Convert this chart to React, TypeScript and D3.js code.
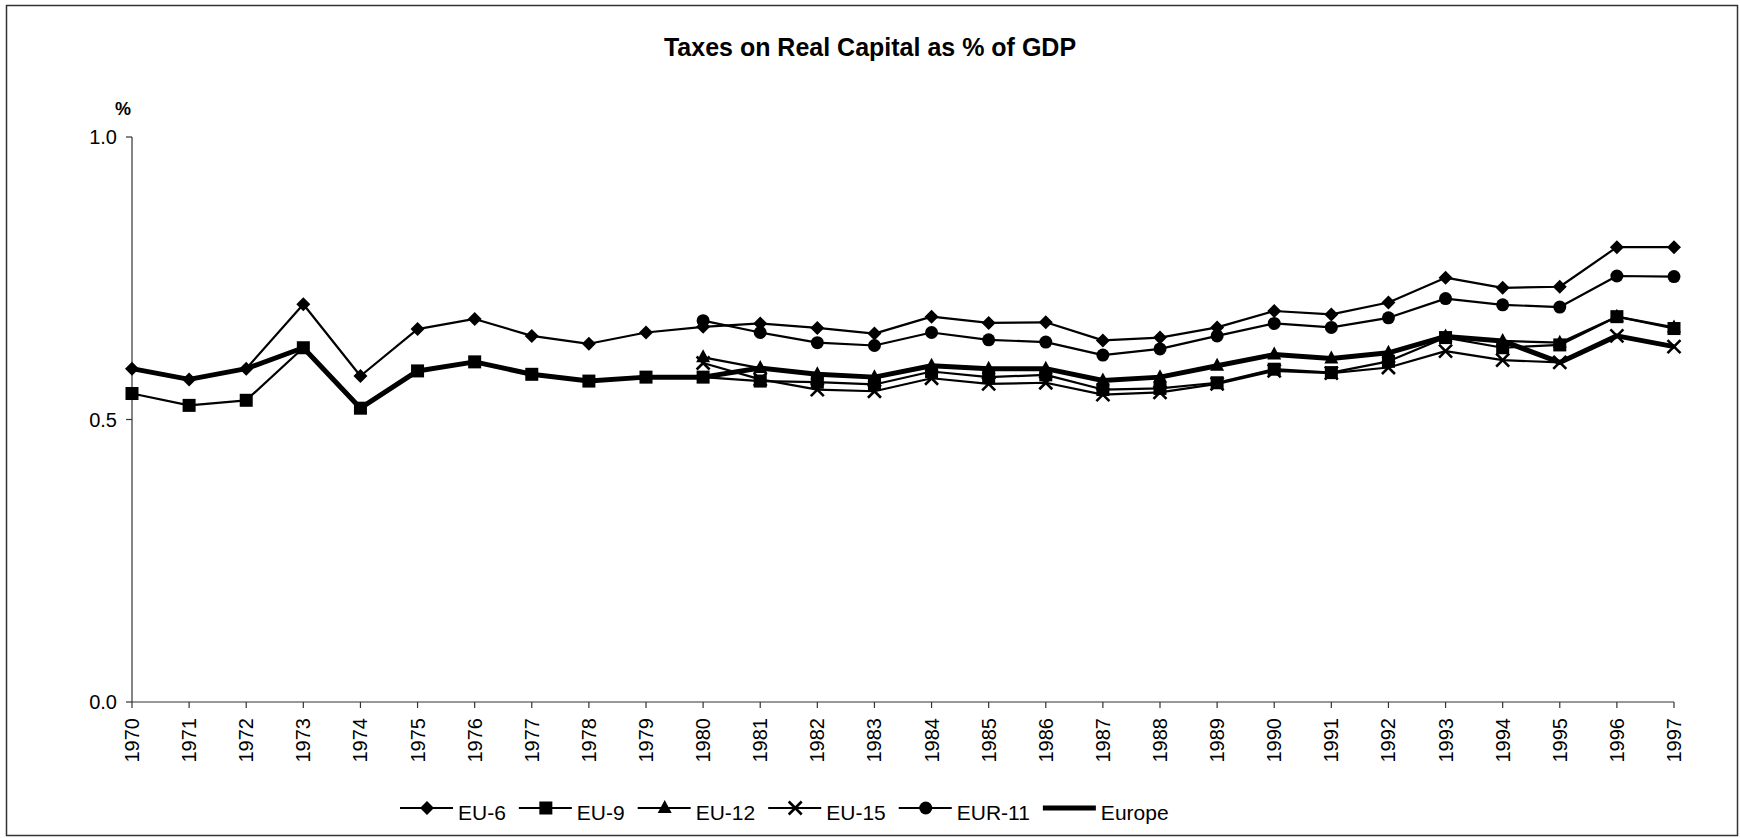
import * as d3 from 'd3'

// years on the category axis
const years: number[] = d3.range(1970, 1998)

// values (% of GDP), null where a series has no data
const eu6: (number | null)[] = [
  0.590, 0.571, 0.590, 0.704, 0.577, 0.660, 0.678, 0.648, 0.634, 0.654,
  0.664, 0.670, 0.662, 0.652, 0.682, 0.671, 0.672, 0.640, 0.645, 0.663,
  0.692, 0.686, 0.707, 0.751, 0.733, 0.735, 0.805, 0.805,
]
const eu9: (number | null)[] = [
  0.546, 0.525, 0.534, 0.627, 0.520, 0.586, 0.602, 0.580, 0.568, 0.575,
  0.575, 0.568, 0.566, 0.562, 0.585, 0.575, 0.579, 0.553, 0.555, 0.565,
  0.589, 0.583, 0.603, 0.645, 0.627, 0.632, 0.682, 0.661,
]
const eu12: (number | null)[] = [
  null, null, null, null, null, null, null, null, null, null,
  0.610, 0.591, 0.580, 0.575, 0.595, 0.590, 0.590, 0.569, 0.575, 0.595,
  0.615, 0.608, 0.618, 0.647, 0.639, 0.636, 0.682, 0.663,
]
const eu15: (number | null)[] = [
  null, null, null, null, null, null, null, null, null, null,
  0.600, 0.571, 0.553, 0.550, 0.573, 0.563, 0.565, 0.544, 0.548, 0.563,
  0.586, 0.582, 0.592, 0.621, 0.605, 0.601, 0.648, 0.629,
]
const eur11: (number | null)[] = [
  null, null, null, null, null, null, null, null, null, null,
  0.675, 0.654, 0.636, 0.631, 0.654, 0.641, 0.637, 0.614, 0.625, 0.648,
  0.670, 0.663, 0.680, 0.714, 0.703, 0.699, 0.754, 0.753,
]
const europe: (number | null)[] = [
  0.590, 0.571, 0.590, 0.627, 0.520, 0.586, 0.602, 0.580, 0.568, 0.575,
  0.575, 0.591, 0.580, 0.575, 0.595, 0.590, 0.590, 0.569, 0.575, 0.595,
  0.615, 0.608, 0.618, 0.647, 0.639, 0.601, 0.648, 0.629,
]

const yTicks: number[] = [0, 0.5, 1.0]

type Marker = 'diamond' | 'square' | 'triangle' | 'cross' | 'circle' | 'none'

interface Series {
  name: string
  values: (number | null)[]
  marker: Marker
  width: number
}

const seriesList: Series[] = [
  { name: 'EU-6', values: eu6, marker: 'diamond', width: 2.2 },
  { name: 'EU-9', values: eu9, marker: 'square', width: 2.2 },
  { name: 'EU-12', values: eu12, marker: 'triangle', width: 2.2 },
  { name: 'EU-15', values: eu15, marker: 'cross', width: 2.2 },
  { name: 'EUR-11', values: eur11, marker: 'circle', width: 2.2 },
  { name: 'Europe', values: europe, marker: 'none', width: 5 },
]

const W = 1740
const H = 838
const FONT = '"Liberation Sans", Arial, sans-serif'
const plot = { left: 132, right: 1674, top: 137, bottom: 702 }

function MarkerShape({ type }: { type: Marker }) {
  switch (type) {
    case 'diamond':
      return <path d="M0,-7L7,0L0,7L-7,0Z" fill="#000" />
    case 'square':
      return <rect x={-6.5} y={-6.5} width={13} height={13} fill="#000" />
    case 'triangle':
      return <path d="M0,-8L7,5L-7,5Z" fill="#000" />
    case 'cross':
      return (
        <path d="M-6.5,-6.5L6.5,6.5M-6.5,6.5L6.5,-6.5" stroke="#000" strokeWidth={2.6} fill="none" />
      )
    case 'circle':
      return <circle r={6.5} fill="#000" />
    default:
      return null
  }
}

function measure(text: string, font: string): number {
  const ctx = document.createElement('canvas').getContext('2d')
  if (!ctx) return text.length * 11
  ctx.font = font
  return ctx.measureText(text).width
}

export default function App() {
  const x = d3.scalePoint<number>().domain(years).range([plot.left, plot.right])
  const y = d3.scaleLinear().domain([0, 1]).range([plot.bottom, plot.top])

  const line = d3
    .line<number | null>()
    .defined((d) => d !== null)
    .x((_, i) => x(years[i]) as number)
    .y((d) => y(d as number))

  // legend layout
  const legendFont = `21px ${FONT}`
  let lx = 400
  const legendItems = seriesList.map((s) => {
    const item = { s, x: lx }
    lx += 58 + measure(s.name, legendFont) + 13
    return item
  })
  const legendY = 808

  return (
    <svg
      width={W}
      height={H}
      style={{ position: 'absolute', left: 0, top: 0, background: '#fff' }}
      fontFamily={FONT}
    >
      <rect x={6.5} y={5.5} width={1731} height={830} fill="#fff" stroke="#333" strokeWidth={1.5} />

      <text x={870} y={56} textAnchor="middle" fontSize={25} fontWeight="bold">
        Taxes on Real Capital as % of GDP
      </text>
      <text x={123} y={115} textAnchor="middle" fontSize={18} fontWeight="bold">
        %
      </text>

      {/* y axis */}
      <line x1={plot.left} x2={plot.left} y1={plot.top} y2={plot.bottom} stroke="#333" strokeWidth={1.2} />
      {yTicks.map((t) => (
        <g key={t} transform={`translate(${plot.left},${y(t)})`}>
          <line x1={-6} x2={0} stroke="#333" strokeWidth={1.2} />
          <text x={-15} dy="0.35em" textAnchor="end" fontSize={20}>
            {d3.format('.1f')(t)}
          </text>
        </g>
      ))}

      {/* x axis */}
      <line x1={plot.left} x2={plot.right} y1={plot.bottom} y2={plot.bottom} stroke="#333" strokeWidth={1.2} />
      {years.map((yr) => (
        <g key={yr} transform={`translate(${x(yr)},${plot.bottom})`}>
          <line y1={0} y2={6} stroke="#333" strokeWidth={1.2} />
          <text transform="translate(0,16) rotate(-90)" dy="0.35em" textAnchor="end" fontSize={20}>
            {yr}
          </text>
        </g>
      ))}

      {/* series */}
      {seriesList.map((s) => (
        <g key={s.name}>
          <path d={line(s.values) ?? ''} fill="none" stroke="#000" strokeWidth={s.width} strokeLinejoin="round" />
          {s.values.map((v, i) =>
            v === null ? null : (
              <g key={i} transform={`translate(${x(years[i])},${y(v)})`}>
                <MarkerShape type={s.marker} />
              </g>
            ),
          )}
        </g>
      ))}

      {/* legend */}
      {legendItems.map(({ s, x: ix }) => (
        <g key={s.name} transform={`translate(${ix},${legendY})`}>
          <line x1={0} x2={53} stroke="#000" strokeWidth={s.width} />
          <g transform="translate(27,0)">
            <MarkerShape type={s.marker} />
          </g>
          <text x={58} y={12} fontSize={21}>
            {s.name}
          </text>
        </g>
      ))}
    </svg>
  )
}
